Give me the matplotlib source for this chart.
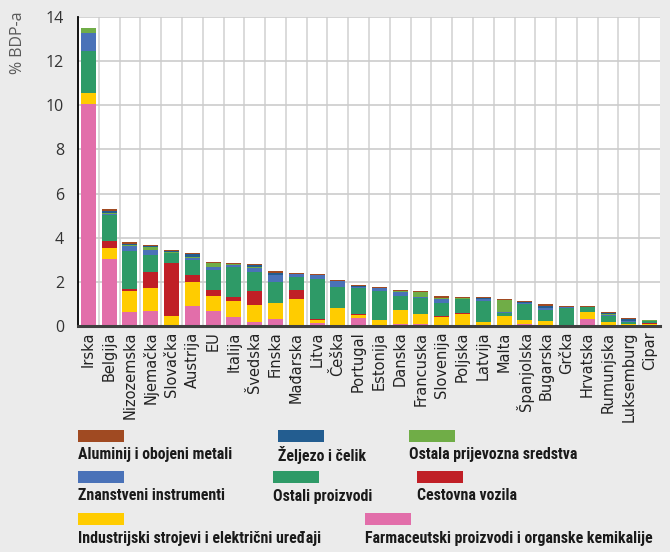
import numpy as np
import matplotlib
matplotlib.use('Agg')
import matplotlib.pyplot as plt
from matplotlib.patches import Rectangle

# data (% of GDP), stacked bottom -> top
countries = ['Irska', 'Belgija', 'Nizozemska', 'Njemačka', 'Slovačka', 'Austrija', 'EU',
             'Italija', 'Švedska', 'Finska', 'Mađarska', 'Litva', 'Češka', 'Portugal',
             'Estonija', 'Danska', 'Francuska', 'Slovenija', 'Poljska', 'Latvija', 'Malta',
             'Španjolska', 'Bugarska', 'Grčka', 'Hrvatska', 'Rumunjska', 'Luksemburg', 'Cipar']

pharma = [10.06, 3.05, 0.65, 0.68, 0.0, 0.92, 0.68, 0.42, 0.2, 0.32, 0.05, 0.15, 0.04, 0.38,
          0.03, 0.1, 0.09, 0.0, 0.0, 0.0, 0.04, 0.07, 0.04, 0.0, 0.32, 0.03, 0.01, 0.05]
machinery = [0.5, 0.5, 0.95, 1.04, 0.45, 1.08, 0.69, 0.72, 0.75, 0.74, 1.17, 0.12, 0.78, 0.12,
             0.24, 0.62, 0.45, 0.41, 0.56, 0.18, 0.43, 0.2, 0.2, 0.06, 0.31, 0.16, 0.08, 0.06]
road = [0.0, 0.28, 0.06, 0.74, 2.4, 0.31, 0.28, 0.18, 0.64, 0.0, 0.41, 0.05, 0.0, 0.06,
        0.0, 0.0, 0.0, 0.06, 0.04, 0.0, 0.0, 0.0, 0.0, 0.0, 0.0, 0.0, 0.0, 0.02]
other = [1.89, 1.2, 1.74, 0.76, 0.44, 0.68, 0.89, 1.35, 0.87, 0.95, 0.57, 1.81, 0.95, 1.16,
         1.32, 0.65, 0.74, 0.57, 0.63, 0.94, 0.1, 0.73, 0.5, 0.74, 0.22, 0.27, 0.08, 0.08]
sci = [0.83, 0.03, 0.24, 0.23, 0.03, 0.1, 0.15, 0.08, 0.18, 0.32, 0.14, 0.18, 0.26, 0.06,
       0.14, 0.17, 0.05, 0.2, 0.0, 0.12, 0.05, 0.05, 0.09, 0.04, 0.0, 0.06, 0.05, 0.03]
transport = [0.2, 0.05, 0.03, 0.15, 0.02, 0.05, 0.15, 0.05, 0.02, 0.0, 0.0, 0.0, 0.0, 0.0,
             0.0, 0.04, 0.21, 0.05, 0.03, 0.0, 0.57, 0.0, 0.0, 0.0, 0.0, 0.03, 0.0, 0.04]
iron = [0.0, 0.12, 0.06, 0.03, 0.05, 0.14, 0.02, 0.03, 0.09, 0.06, 0.03, 0.0, 0.02, 0.05,
        0.0, 0.0, 0.0, 0.0, 0.0, 0.03, 0.0, 0.04, 0.07, 0.04, 0.0, 0.04, 0.08, 0.0]
alu = [0.02, 0.08, 0.06, 0.05, 0.05, 0.05, 0.06, 0.04, 0.04, 0.1, 0.03, 0.05, 0.05, 0.03,
       0.04, 0.05, 0.05, 0.08, 0.04, 0.03, 0.03, 0.04, 0.09, 0.04, 0.06, 0.06, 0.04, 0.0]

series = [pharma, machinery, road, other, sci, transport, iron, alu]
colors = ['#e26eaa', '#ffcc00', '#c01f26', '#2e9a67', '#4a72b8', '#70ad47', '#235d90', '#a04a22']
names = ['Farmaceutski proizvodi i organske kemikalije', 'Industrijski strojevi i električni uređaji',
         'Cestovna vozila', 'Ostali proizvodi', 'Znanstveni instrumenti',
         'Ostala prijevozna sredstva', 'Željezo i čelik', 'Aluminij i obojeni metali']

bg = '#ebebeb'
fig = plt.figure(figsize=(6.7, 5.52), dpi=100, facecolor=bg)
ax = fig.add_axes([78/670, 1-326/552, 582/670, 309/552])
ax.set_facecolor('white')

x = np.arange(len(countries))
bottom = np.zeros(len(countries))
for vals, c in zip(series, colors):
    vals = np.array(vals)
    ax.bar(x, vals, 0.72, bottom=bottom, color=c, zorder=3)
    bottom += vals

ax.set_xlim(-0.5, len(countries)-0.5)
ax.set_ylim(0, 14)
ax.set_yticks(np.arange(0, 15, 2))
ax.set_xticks(x)
ax.set_xticklabels(countries, rotation=90, fontsize=10.5, color='#222222')
ax.tick_params(axis='both', length=0)
ax.tick_params(axis='y', pad=10, labelsize=11.5, labelcolor='#333333')
for t in ax.get_yticklabels():
    t.set_family(['Open Sans', 'DejaVu Sans'])
ax.tick_params(axis='x', pad=4)

# grid: horizontal at ticks, vertical between bars
ax.yaxis.grid(True, color='#cccccc', linewidth=1.2, zorder=0)
ax.set_xticks(np.arange(len(countries)-1) + 0.5, minor=True)
ax.xaxis.grid(True, which='minor', color='#d4d4d4', linewidth=1.2, zorder=0)
ax.tick_params(which='minor', length=0)

for s in ['top', 'right']:
    ax.spines[s].set_visible(False)
ax.spines['left'].set_color('black')
ax.spines['left'].set_linewidth(1.3)
ax.spines['bottom'].set_color('#404040')
ax.spines['bottom'].set_linewidth(2.2)
ax.spines['bottom'].set_zorder(4)

fig.text(18/670, 1-43/552, '% BDP-a', rotation=90, ha='center', va='center',
         fontsize=11.5, color='#595959', family=['Open Sans', 'DejaVu Sans'])

# legend drawn by hand: swatch above label
leg = [
    (7, 78, 430), (6, 278, 430), (5, 409, 430),
    (4, 78, 471), (3, 273, 471), (2, 417, 471),
    (1, 78, 513), (0, 365, 513),
]
for idx, lx, ly in leg:
    fig.patches.append(Rectangle((lx/670, 1-(ly+12)/552), 46/670, 12/552,
                                 transform=fig.transFigure, facecolor=colors[idx],
                                 edgecolor='none'))
    fig.text(lx/670, 1-(ly+25)/552, names[idx], ha='left', va='center', fontsize=11.4,
             fontweight='bold', fontstretch='condensed', color='#1a1a1a',
             family=['Roboto Condensed', 'Liberation Sans Narrow', 'DejaVu Sans'])

fig.savefig('out.png', dpi=100, facecolor=bg)
